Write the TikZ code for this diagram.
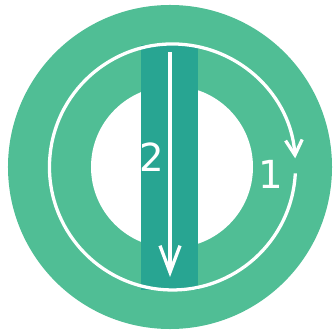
\documentclass[tikz,border=0pt]{standalone}
\usepackage{fontspec}
\setmainfont{DejaVu Sans}
\usetikzlibrary{arrows.meta, positioning}
\definecolor{ringgreen}{RGB}{80,190,149}
\definecolor{barteal}{RGB}{40,165,146}

\begin{document}
\begin{tikzpicture}[
    x=0.03cm, y=0.03cm,
    disc/.style={circle, inner sep=0pt, draw=none},
    lane/.style={rectangle, inner sep=0pt, draw=none, fill=barteal, minimum width=1.71cm, minimum height=7.35cm},
    flow/.style={white, line width=2.8pt},
    label/.style={text=white, font=\fontsize{33}{33}\selectfont, inner sep=0pt}
]
    \useasboundingbox (0,0) rectangle (333,334);

    % Ring
    \node[disc, fill=ringgreen, minimum size=9.72cm] (ring) at (170,167) {};
    \node[disc, fill=white, minimum size=4.86cm] (hole) at (172,167) {};

    % Bar
    \node[lane] (bar) at (169.5,166.5) {};

    % Loop 1
    \coordinate (loopstart) at (295.3,160.6);
    \draw[flow, -{Straight Barb[length=4.5mm, width=5mm]}] (loopstart) arc[start angle=-3, end angle=-356, radius=123];

    % Path 2
    \coordinate (downtop) at (170,282);
    \coordinate (downend) at (170,57);
    \draw[flow, -{Straight Barb[length=8mm, width=6mm]}] (downtop) -- (downend);

    % Labels
    \node[label] (one) at (271,160) {1};
    \node[label] (two) at (152,177) {2};

\end{tikzpicture}
\end{document}
